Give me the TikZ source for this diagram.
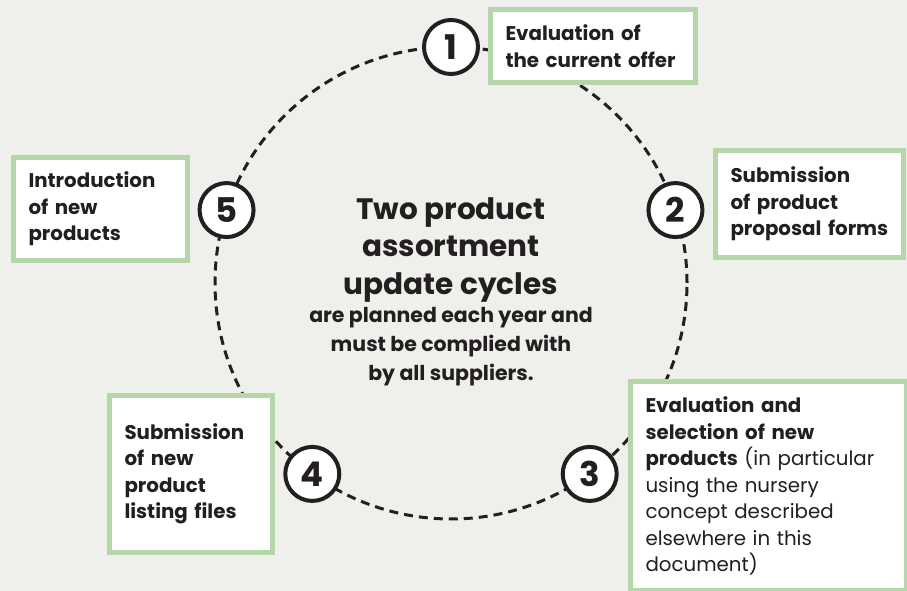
\documentclass[tikz,border=0pt]{standalone}
\usepackage{fontspec}
\setmainfont{Poppins}
\usepackage{xcolor}
\definecolor{bg}{HTML}{EFEFEB}
\definecolor{boxgreen}{HTML}{B5D6A8}
\definecolor{ink}{HTML}{231F20}
\tikzset{
    stepbox/.style={draw=boxgreen, line width=5pt, fill=white, inner xsep=15pt,
        inner ysep=0pt, align=left, text=ink,
        font=\fontsize{19.8}{26.5}\selectfont\bfseries},
    numcirc/.style={circle, draw=ink, line width=4pt, fill=white,
        minimum size=54pt, inner sep=0pt, text=ink,
        font=\fontsize{34}{34}\selectfont\bfseries},
    cycleline/.style={draw=ink, line width=3pt, dash pattern=on 9pt off 6pt},
}
\begin{document}
\begin{tikzpicture}[x=1pt, y=1pt]
    % page
    \useasboundingbox (0,0) rectangle (907,591);
    \fill[bg] (0,0) rectangle (907,591);
    \coordinate (ctr) at (451,308);
    % cycle
    \draw[cycleline] (ctr) circle (236pt);
    % steps
    \node[stepbox, text width=175pt, minimum height=73pt] (offer) at (593,545)
        {Evaluation of\\the current offer};
    \node[stepbox, text width=158pt, minimum height=107pt] (forms) at (809.5,387)
        {Submission\\of product\\proposal forms};
    \node[stepbox, text width=246pt, minimum height=209pt] (select) at (768.5,105)
        {Evaluation and\\selection of new\\products {\mdseries(in particular}\\
        {\mdseries using the nursery}\\{\mdseries concept described}\\
        {\mdseries elsewhere in this}\\{\mdseries document)}};
    \node[stepbox, text width=133pt, minimum height=157pt] (listing) at (191,117)
        {Submission\\of new\\product\\listing files};
    \node[stepbox, text width=144pt, minimum height=103pt] (intro) at (100.5,382)
        {Introduction\\of new\\products};
    % numbers
    \foreach \n/\a in {1/90, 2/18, 3/-54, 4/-126, 5/162}
        \node[numcirc] (num\n) at ([shift={(ctr)}]\a:236pt) {\n};
    % centre text
    \node[align=center, text=ink, font=\fontsize{29.5}{37.5}\selectfont\bfseries]
        (title) at (451,341) {Two product\\assortment\\update cycles};
    \node[align=center, text=ink, font=\fontsize{20.5}{29}\selectfont\bfseries]
        (note) at (451,244.5) {are planned each year and\\must be complied with\\by all suppliers.};
\end{tikzpicture}
\end{document}
